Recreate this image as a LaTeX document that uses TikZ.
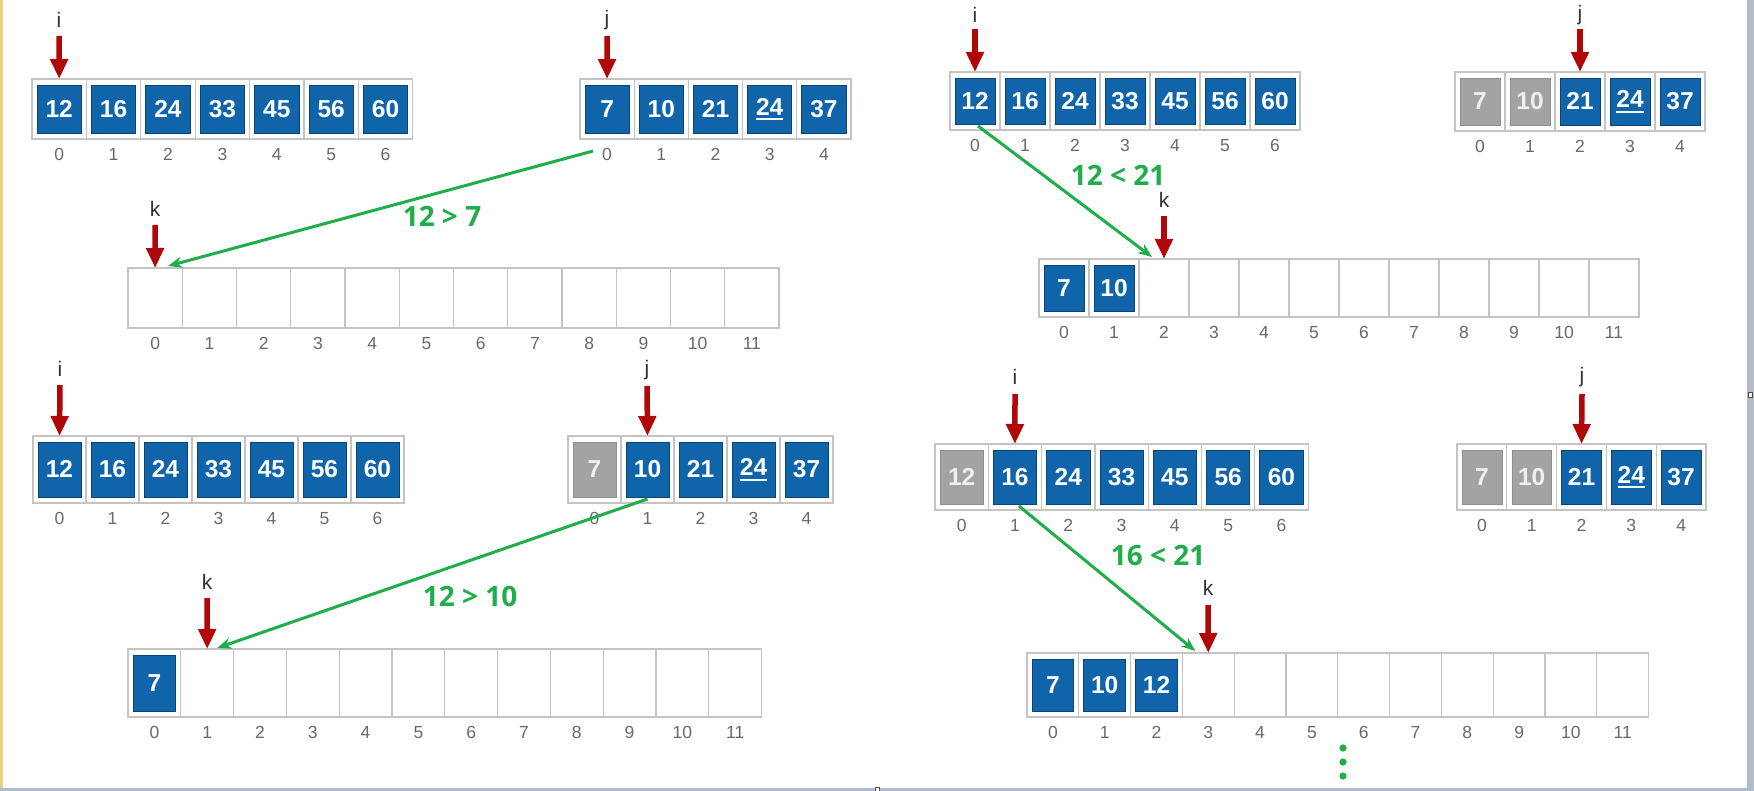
\documentclass[tikz,border=0pt]{standalone}
\usepackage{fontspec}
\setmainfont{Liberation Sans}
\newfontfamily\gfont{Open Sans}
\usetikzlibrary{arrows.meta,calc}
\definecolor{boxblue}{RGB}{16,101,170}
\definecolor{boxedge}{RGB}{10,68,120}
\definecolor{boxgray}{RGB}{163,163,163}
\definecolor{cellline}{RGB}{196,196,196}
\definecolor{idxgray}{RGB}{105,105,105}
\definecolor{ptrred}{RGB}{176,8,8}
\definecolor{cmpgreen}{RGB}{32,174,74}
\definecolor{frameblue}{RGB}{176,188,204}
\definecolor{frameyellow}{RGB}{232,210,130}
\newcommand\ulnum[1]{\setbox0\hbox{#1}\rlap{#1}\raisebox{-5pt}{\rule{\wd0}{2pt}}}
\tikzset{
  cellbox/.style={draw=cellline, line width=1.2pt, inner sep=0pt, outer sep=0pt},
  numfont/.style={font=\bfseries\fontsize{24.5}{24.5}\selectfont},
  inb/.style={fill=boxblue, draw=boxedge, line width=0.8pt, text=white, numfont, inner sep=0pt, outer sep=0pt},
  ing/.style={fill=boxgray, draw=boxgray!88!black, line width=0.6pt, text=white!94!black, numfont, inner sep=0pt, outer sep=0pt},
  ine/.style={inner sep=0pt, outer sep=0pt},
  idx/.style={text=idxgray, font=\fontsize{17.5}{18}\selectfont, inner sep=0pt, text height=12.6pt, text depth=0pt},
  ptrlbl/.style={text=black!80, font=\fontsize{21}{21}\selectfont, inner sep=0pt},
  ptr/.style={draw=ptrred, line width=5.5pt, -{Triangle[length=20pt,width=17pt]}},
  cmp/.style={draw=cmpgreen, line width=3pt, -{Stealth[length=14pt,width=11pt]}},
  cmplbl/.style={text=cmpgreen, font=\gfont\bfseries\fontsize{28}{28}\selectfont, inner sep=0pt},
  dotg/.style={fill=cmpgreen}
}
% #1 name prefix, #2 left, #3 top, #4 cell width, #5 cell height, #6 kind/text list
\newcommand\drawarr[6]{%
  \foreach[count=\n from 0] \k/\t in {#6}{%
    \node[cellbox, minimum width={#4*1pt}, minimum height={#5*1pt}] (#1c\n) at ({#2+(\n+0.5)*#4},{#3+#5/2}) {};
    \node[in\k, minimum width={(#4-10)*1pt}, minimum height={(#5-12)*1pt}] (#1v\n) at (#1c\n.center) {\vphantom{0}\t};
    \node[idx] (#1x\n) at ({#2+(\n+0.5)*#4},{#3+#5+15}) {\n};
  }}
\begin{document}
\begin{tikzpicture}[x=1pt,y=-1pt]
\useasboundingbox (0,0) rectangle (1754,791);
\fill[white] (0,0) rectangle (1754,791);
% frame of the screenshot
\fill[frameyellow] (0,0) rectangle (3,791);
\fill[frameblue] (1747,0) rectangle (1754,791);
\fill[frameblue] (0,788) rectangle (1754,791);
\draw[black!70, fill=white, line width=0.8pt] (1748,392) rectangle (1752,397);
\draw[black!70, fill=white, line width=0.8pt] (875,787) rectangle (879,791);

% ---------------- panel 1 ----------------
\drawarr{p1i}{32}{79}{54.4}{60}{b/12,b/16,b/24,b/33,b/45,b/56,b/60}
\drawarr{p1j}{580}{79}{54.2}{60}{b/7,b/10,b/21,b/{\ulnum{24}},b/37}
\drawarr{p1k}{128}{268}{54.25}{60}{e/{},e/{},e/{},e/{},e/{},e/{},e/{},e/{},e/{},e/{},e/{},e/{}}
\node[ptrlbl] (p1iL) at (59,20) {i};
\draw[ptr] ([yshift=-16pt]p1iL.center) -- (p1ic0.north);
\node[ptrlbl] (p1jL) at (607,20) {j};
\draw[ptr] ([yshift=-16pt]p1jL.center) -- (p1jc0.north);
\node[ptrlbl] (p1kL) at (155,209) {k};
\draw[ptr] ([yshift=-16pt]p1kL.center) -- (p1kc0.north);
\coordinate (g1s) at ($(p1jx0.center)+(-14,-3)$);
\coordinate (g1e) at ($(p1kc0.north)+(13,-2)$);
\draw[cmp] (g1s) -- (g1e);
\node[cmplbl] (c1) at (442,216) {12 > 7};

% ---------------- panel 2 ----------------
\drawarr{p2i}{950}{72}{50}{58}{b/12,b/16,b/24,b/33,b/45,b/56,b/60}
\drawarr{p2j}{1455}{72}{50}{59}{g/7,g/10,b/21,b/{\ulnum{24}},b/37}
\drawarr{p2k}{1039}{259}{50}{58}{b/7,b/10,e/{},e/{},e/{},e/{},e/{},e/{},e/{},e/{},e/{},e/{}}
\node[ptrlbl] (p2iL) at (975,15) {i};
\draw[ptr] ([yshift=-14pt]p2iL.center) -- (p2ic0.north);
\node[ptrlbl] (p2jL) at (1580,15) {j};
\draw[ptr] ([yshift=-14pt]p2jL.center) -- (p2jc2.north);
\node[ptrlbl] (p2kL) at (1164,200) {k};
\draw[ptr] ([yshift=-16pt]p2kL.center) -- (p2kc2.north);
\coordinate (g2s) at ($(p2iv0.south)+(3,2)$);
\coordinate (g2e) at ($(p2kc2.north)+(-12,-2)$);
\draw[cmp] (g2s) -- (g2e);
\node[cmplbl] (c2) at (1118,175) {12 < 21};

% ---------------- panel 3 ----------------
\drawarr{p3i}{33}{436}{53}{67}{b/12,b/16,b/24,b/33,b/45,b/56,b/60}
\drawarr{p3j}{568}{436}{53}{67}{g/7,b/10,b/21,b/{\ulnum{24}},b/37}
\drawarr{p3k}{128}{649}{52.8}{68}{b/7,e/{},e/{},e/{},e/{},e/{},e/{},e/{},e/{},e/{},e/{},e/{}}
\node[ptrlbl] (p3iL) at (60,369) {i};
\draw[ptr] ([yshift=-16pt]p3iL.center) -- (p3ic0.north);
\node[ptrlbl] (p3jL) at (647,370) {j};
\draw[ptr] ([yshift=-16pt]p3jL.center) -- (p3jc1.north);
\node[ptrlbl] (p3kL) at (207,582) {k};
\draw[ptr] ([yshift=-16pt]p3kL.center) -- (p3kc1.north);
\coordinate (g3s) at ($(p3jv1.south)+(0,2)$);
\coordinate (g3e) at ($(p3kc1.north)+(10,-1)$);
\draw[cmp] (g3s) -- (g3e);
\node[cmplbl] (c3) at (470,596) {12 > 10};

% ---------------- panel 4 ----------------
\drawarr{p4i}{935}{444}{53.3}{66}{g/12,b/16,b/24,b/33,b/45,b/56,b/60}
\drawarr{p4j}{1457}{444}{49.8}{66}{g/7,g/10,b/21,b/{\ulnum{24}},b/37}
\drawarr{p4k}{1027}{653}{51.8}{64}{b/7,b/10,b/12,e/{},e/{},e/{},e/{},e/{},e/{},e/{},e/{},e/{}}
\node[ptrlbl] (p4iL) at (1015,377) {i};
\draw[ptr] ([yshift=-17pt]p4iL.center) -- (p4ic1.north);
\node[ptrlbl] (p4jL) at (1582,377) {j};
\draw[ptr] ([yshift=-17pt]p4jL.center) -- (p4jc2.north);
\node[ptrlbl] (p4kL) at (1208,588) {k};
\draw[ptr] ([yshift=-17pt]p4kL.center) -- (p4kc3.north);
\coordinate (g4s) at ($(p4iv1.south)+(4,2)$);
\coordinate (g4e) at ($(p4kc3.north)+(-13,-2)$);
\draw[cmp] (g4s) -- (g4e);
\node[cmplbl] (c4) at (1158,555) {16 < 21};
\fill[dotg] (1343,748) circle (3.6);
\fill[dotg] (1343,762) circle (3.6);
\fill[dotg] (1343,776) circle (3.6);
\end{tikzpicture}
\end{document}
